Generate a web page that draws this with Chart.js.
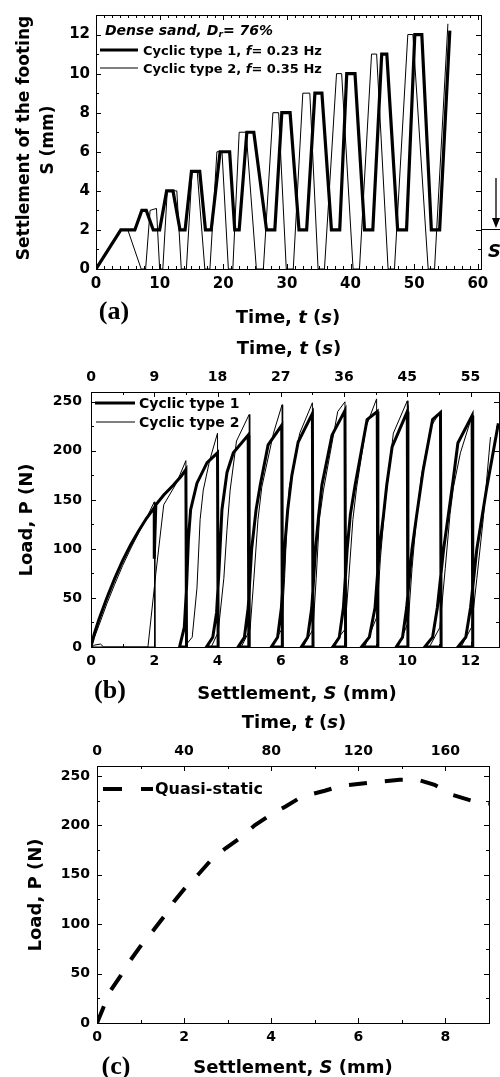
<!DOCTYPE html>
<html><head><meta charset="utf-8">
<script src="https://cdn.jsdelivr.net/npm/chart.js@4.4.1/dist/chart.umd.min.js"></script>
<style>
html,body{margin:0;padding:0;background:#fff;}
#root{position:relative;width:500px;height:1077px;overflow:hidden;background:#fff;}
canvas{position:absolute;left:0;}
.t{position:absolute;font-family:'DejaVu Sans',sans-serif;font-weight:bold;color:#000;white-space:nowrap;line-height:1;}
.c{transform:translate(-50%,-50%);}
.l{transform:translate(0,-50%);}
.v{transform:translate(-50%,-50%) rotate(-90deg);}
.p{font-family:'Liberation Serif','Times New Roman',serif;font-size:26px;}
sub{font-size:0.65em;vertical-align:-0.25em;line-height:0;}
svg{position:absolute;left:0;top:0;}
</style></head>
<body><div id="root">
<canvas id="ca" width="500" height="300" style="top:0;width:500px;height:300px"></canvas>
<canvas id="cb" width="500" height="400" style="top:300px;width:500px;height:400px"></canvas>
<canvas id="cc" width="500" height="377" style="top:700px;width:500px;height:377px"></canvas>

<svg width="500" height="1077" viewBox="0 0 500 1077">
  <line x1="100" y1="50" x2="138" y2="50" stroke="#000" stroke-width="3"/>
  <line x1="100" y1="68" x2="138" y2="68" stroke="#000" stroke-width="1"/>
  <line x1="481" y1="229.5" x2="500" y2="229.5" stroke="#000" stroke-width="1"/>
  <line x1="496" y1="178" x2="496" y2="220" stroke="#000" stroke-width="1.3"/>
  <polygon points="492,218 500,218 496,228" fill="#000"/>
  <line x1="95" y1="403" x2="135" y2="403" stroke="#000" stroke-width="3"/>
  <line x1="96" y1="422" x2="135" y2="422" stroke="#000" stroke-width="1"/>
  <line x1="103" y1="789" x2="153" y2="789" stroke="#000" stroke-width="4" stroke-dasharray="19 19"/>
</svg>

<!-- panel (a) texts -->
<div class="t v" style="left:23px;top:138px;font-size:17px;">Settlement of the footing</div>
<div class="t v" style="left:47px;top:140px;font-size:17px;">S (mm)</div>
<div class="t c" style="left:288px;top:317px;font-size:18px;">Time, <i>t</i> (<i>s</i>)</div>
<div class="t c p" style="left:114px;top:311px;">(a)</div>
<div class="t l" style="left:105px;top:30px;font-size:14px;font-style:italic;">Dense sand, D<sub>r</sub>= 76%</div>
<div class="t l" style="left:143px;top:50px;font-size:13px;">Cyclic type 1, <i>f</i>= 0.23 Hz</div>
<div class="t l" style="left:143px;top:68px;font-size:13px;">Cyclic type 2, <i>f</i>= 0.35 Hz</div>
<div class="t" style="left:488px;top:242px;font-size:18px;font-style:italic;">S</div>

<!-- panel (b) texts -->
<div class="t c" style="left:289px;top:348px;font-size:18px;">Time, <i>t</i> (<i>s</i>)</div>
<div class="t v" style="left:26px;top:520px;font-size:18px;">Load, P (N)</div>
<div class="t c p" style="left:110px;top:690px;">(b)</div>
<div class="t c" style="left:297px;top:693px;font-size:18px;">Settlement, <i>S</i> (mm)</div>
<div class="t l" style="left:139px;top:403px;font-size:14px;">Cyclic type 1</div>
<div class="t l" style="left:139px;top:422px;font-size:14px;">Cyclic type 2</div>

<!-- panel (c) texts -->
<div class="t c" style="left:294px;top:722px;font-size:18px;">Time, <i>t</i> (<i>s</i>)</div>
<div class="t v" style="left:35px;top:895px;font-size:18px;">Load, P (N)</div>
<div class="t c p" style="left:116px;top:1066px;">(c)</div>
<div class="t c" style="left:293px;top:1067px;font-size:18px;">Settlement, <i>S</i> (mm)</div>
<div class="t l" style="left:155px;top:789px;font-size:16px;">Quasi-static</div>
</div>

<script>
// ---------- Panel (a): settlement of the footing vs time ----------
const timeType1 = [0,3.9,6.1,7.2,7.9,9.0,10.0,11.1,12.1,13.2,14.0,15.0,16.3,17.2,18.1,19.5,21.0,21.8,22.5,23.7,24.8,26.8,28.1,29.2,30.5,31.9,33.1,34.4,35.5,37.0,38.3,39.4,40.7,42.2,43.5,44.9,45.7,47.4,48.8,50.1,51.2,52.7,54.0,55.6];
const settleType1 = [0,2,2,3,3,2,2,4,4,2,2,5,5,2,2,6,6,2,2,7,7,2,2,8,8,2,2,9,9,2,2,10,10,2,2,11,11,2,2,12,12,2,2,12.2];
const timeType2 = [0,3.9,5.0,7.1,7.8,8.5,9.5,10.0,10.5,11.2,12.7,13.4,14.2,15.1,15.9,17.1,17.9,19.0,19.8,20.8,21.5,22.5,23.6,25.2,26.3,27.8,28.7,29.9,31.0,32.5,33.6,34.9,35.9,37.8,38.6,40.4,41.4,43.3,44.1,45.9,46.9,49.0,49.8,52.2,53.2,55.3];
const settleType2 = [0,2,2,0,0,3,3.1,0,0,4,4,0,0,5,5,0,0,6,6,0,0,7,7,0,0,8,8,0,0,9,9,0,0,10,10,0,0,11,11,0,0,12,12,0,0,12.55];
const aTimeTicks = [0,10,20,30,40,50,60];
const aSettleTicks = [0,2,4,6,8,10,12];

// ---------- Panel (b): load vs settlement, cyclic ----------
const cycSettle1 = [0,0.1,0.25,0.5,0.75,1.0,1.25,1.5,1.75,2.0,2.0,2.05,2.3,2.6,2.85,3.0,3.02,
  2.8,2.95,3.02,3.08,3.15,3.35,3.67,4.0,4.02,
  3.65,3.85,3.97,4.05,4.14,4.3,4.5,4.97,4.99,
  4.65,4.85,4.97,5.08,5.22,5.35,5.6,6.03,6.05,
  5.7,5.9,6.02,6.12,6.22,6.35,6.55,7.0,7.02,
  6.65,6.85,6.98,7.1,7.2,7.3,7.62,8.03,8.05,
  7.65,7.85,7.98,8.1,8.2,8.35,8.73,9.05,9.07,
  8.55,8.8,8.98,9.12,9.25,9.35,9.52,10.0,10.02,
  9.65,9.85,9.98,10.15,10.3,10.5,10.8,11.05,11.07,
  10.55,10.8,10.95,11.15,11.3,11.45,11.6,12.05,12.07,
  11.6,11.85,12.0,12.2,12.35,12.5,12.88];
const cycLoad1 = [0,13,28,50,70,88,104,118,131,142,90,145,155,165,174,181,0,
  0,20,60,110,140,167,188,198,0,
  0,10,35,80,140,178,198,216,0,
  0,10,40,100,140,165,206,226,0,
  0,10,40,100,140,175,209,238,0,
  0,10,40,100,135,165,216,241,0,
  0,10,40,100,135,165,232,240,0,
  0,10,40,100,135,165,204,240,0,
  0,10,40,100,135,180,232,239,0,
  0,10,40,100,135,170,208,236,0,
  0,10,40,100,130,160,228];
const cycSettle2 = [0,0.1,0.25,0.5,0.75,1.0,1.25,1.5,1.75,2.0,2.02,
  0.4,0.3,0.12,0.02,
  1.8,2.05,2.3,2.7,3.0,3.02,
  2.95,3.2,3.35,3.45,3.55,3.75,4.0,4.02,
  3.8,4.02,4.2,4.3,4.4,4.6,5.0,5.02,
  4.75,5.03,5.15,5.28,5.4,5.77,6.04,6.06,
  5.7,6.03,6.12,6.2,6.27,6.6,7.0,7.02,
  6.7,7.02,7.12,7.22,7.35,7.8,8.03,8.05,
  7.6,8.03,8.15,8.28,8.4,8.7,9.03,9.05,
  8.65,9.03,9.15,9.28,9.4,9.56,10.0,10.02,
  9.7,10.03,10.15,10.3,10.45,10.75,11.05,11.07,
  10.7,11.03,11.2,11.35,11.46,11.68,12.05,12.07,
  11.7,12.03,12.2,12.4,12.63];
const cycLoad2 = [0,9,22,44,64,83,100,116,131,148,0,
  0,3,2,0,
  0,75,145,167,190,0,
  0,10,60,130,160,190,218,0,
  0,15,70,120,160,210,237,0,
  0,18,70,130,163,218,247,0,
  0,18,70,130,163,218,249,0,
  0,18,70,130,160,240,250,0,
  0,18,70,130,163,225,253,0,
  0,30,90,140,175,218,251,0,
  0,25,80,135,175,225,240,0,
  0,20,80,135,163,198,236,0,
  0,20,70,130,214];
const bSettleTicks = [0,2,4,6,8,10,12];
const bTopTimeLabels = ['0','9','18','27','36','45','55'];
const bLoadTicks = [0,50,100,150,200,250];

// ---------- Panel (c): quasi-static load vs settlement ----------
const qsSettle = [0,0.14,0.3,0.53,0.76,1.02,1.3,1.56,1.77,2.03,2.32,2.62,2.96,3.28,3.62,4.0,4.33,4.7,5.23,5.61,6.26,6.5,6.95,7.37,7.75,8.14,8.6,8.86,9.0];
const qsLoad = [0,15,32,47,63,79,94,109,123,137,150,165,177,187,200,211,219,229,235,240,243,244,246,246,241,231,225,223,222];
const cSettleTicks = [0,2,4,6,8];
const cTopTimeTicks = [0,40,80,120,160];
const cLoadTicks = [0,50,100,150,200,250];

// ---------- helpers ----------
const FONT = "'DejaVu Sans', sans-serif";
const pts = (xs, ys) => xs.map((x, i) => ({x: x, y: ys[i]}));
const near = (list, v) => list.some(u => Math.abs(u - v) < 1e-6);
function labeler(list, names) {
  return v => {
    const i = list.findIndex(u => Math.abs(u - v) < 1e-6);
    return i < 0 ? '' : (names ? names[i] : String(list[i]));
  };
}
function axis(pos, min, max, step, majors, names, size, pad, fs, show) {
  return {
    type: 'linear', position: pos, min: min, max: max,
    ticks: {display: show, stepSize: step, autoSkip: false, includeBounds: false,
      maxRotation: 0, minRotation: 0, padding: pad, color: '#000',
      font: {family: FONT, weight: 'bold', size: fs}, callback: labeler(majors, names)},
    grid: {display: false, drawTicks: false},
    border: {display: true, color: '#000', width: 1},
    afterFit(s) { if (pos === 'left' || pos === 'right') s.width = size; else s.height = size; }
  };
}
function innerTicks(spec) {
  return {
    id: 'innerTicks',
    afterDatasetsDraw(chart) {
      const ctx = chart.ctx, a = chart.chartArea;
      ctx.save(); ctx.strokeStyle = '#000'; ctx.lineWidth = 1; ctx.beginPath();
      for (const id in spec) {
        const sc = chart.scales[id]; if (!sc) continue;
        for (const t of sc.ticks) {
          const len = near(spec[id], t.value) ? 5 : 3;
          const p = Math.round(sc.getPixelForValue(t.value)) + 0.5;
          if (sc.position === 'bottom') { ctx.moveTo(p, a.bottom); ctx.lineTo(p, a.bottom - len); }
          else if (sc.position === 'top') { ctx.moveTo(p, a.top); ctx.lineTo(p, a.top + len); }
          else if (sc.position === 'left') { ctx.moveTo(a.left, p); ctx.lineTo(a.left + len, p); }
          else { ctx.moveTo(a.right, p); ctx.lineTo(a.right - len, p); }
        }
      }
      ctx.stroke(); ctx.restore();
    }
  };
}
function line(xs, ys, w, dash) {
  return {data: pts(xs, ys), borderColor: '#000', borderWidth: w, pointRadius: 0,
    tension: 0, fill: false, borderDash: dash || [], borderCapStyle: 'butt', borderJoinStyle: 'miter'};
}
const common = {
  responsive: false, animation: false, devicePixelRatio: 1,
  layout: {padding: 0},
  plugins: {legend: {display: false}, tooltip: {enabled: false}}
};

// ---------- Chart (a) ----------
new Chart(document.getElementById('ca'), {
  type: 'line',
  data: {datasets: [line(timeType2, settleType2, 1), line(timeType1, settleType1, 3.2)]},
  options: Object.assign({}, common, {scales: {
    x: axis('bottom', 0, 60.5, 1.25, aTimeTicks, null, 31, 6, 15, true),
    x2: axis('top', 0, 60.5, 1.25, aTimeTicks, null, 13, 0, 15, false),
    y: axis('left', 0, 13, 1, aSettleTicks, null, 96, 6, 15, true),
    y2: axis('right', 0, 13, 1, aSettleTicks, null, 19, 0, 15, false)
  }}),
  plugins: [innerTicks({x: aTimeTicks, x2: aTimeTicks, y: aSettleTicks, y2: aSettleTicks})]
});

// ---------- Chart (b) ----------
new Chart(document.getElementById('cb'), {
  type: 'line',
  data: {datasets: [line(cycSettle2, cycLoad2, 1), line(cycSettle1, cycLoad1, 3)]},
  options: Object.assign({}, common, {scales: {
    x: axis('bottom', 0, 12.9, 1, bSettleTicks, null, 53, 6, 14, true),
    x2: axis('top', 0, 12.9, 1, bSettleTicks, bTopTimeLabels, 92, 6, 14, true),
    y: axis('left', 0, 260, 25, bLoadTicks, null, 91, 9, 14, true),
    y2: axis('right', 0, 260, 25, bLoadTicks, null, 1, 0, 14, false)
  }}),
  plugins: [innerTicks({x: bSettleTicks, x2: bSettleTicks, y: bLoadTicks, y2: bLoadTicks})]
});

// ---------- Chart (c) ----------
new Chart(document.getElementById('cc'), {
  type: 'line',
  data: {datasets: [line(qsSettle, qsLoad, 4, [18, 18])]},
  options: Object.assign({}, common, {scales: {
    x: axis('bottom', 0, 9, 1, cSettleTicks, null, 54, 6, 14, true),
    x2: axis('top', 0, 180, 20, cTopTimeTicks, null, 66, 6, 14, true),
    y: axis('left', 0, 260, 25, cLoadTicks, null, 97, 7, 14, true),
    y2: axis('right', 0, 260, 25, cLoadTicks, null, 11, 0, 14, false)
  }}),
  plugins: [innerTicks({x: cSettleTicks, x2: cTopTimeTicks, y: cLoadTicks, y2: cLoadTicks})]
});
</script>
</body></html>
